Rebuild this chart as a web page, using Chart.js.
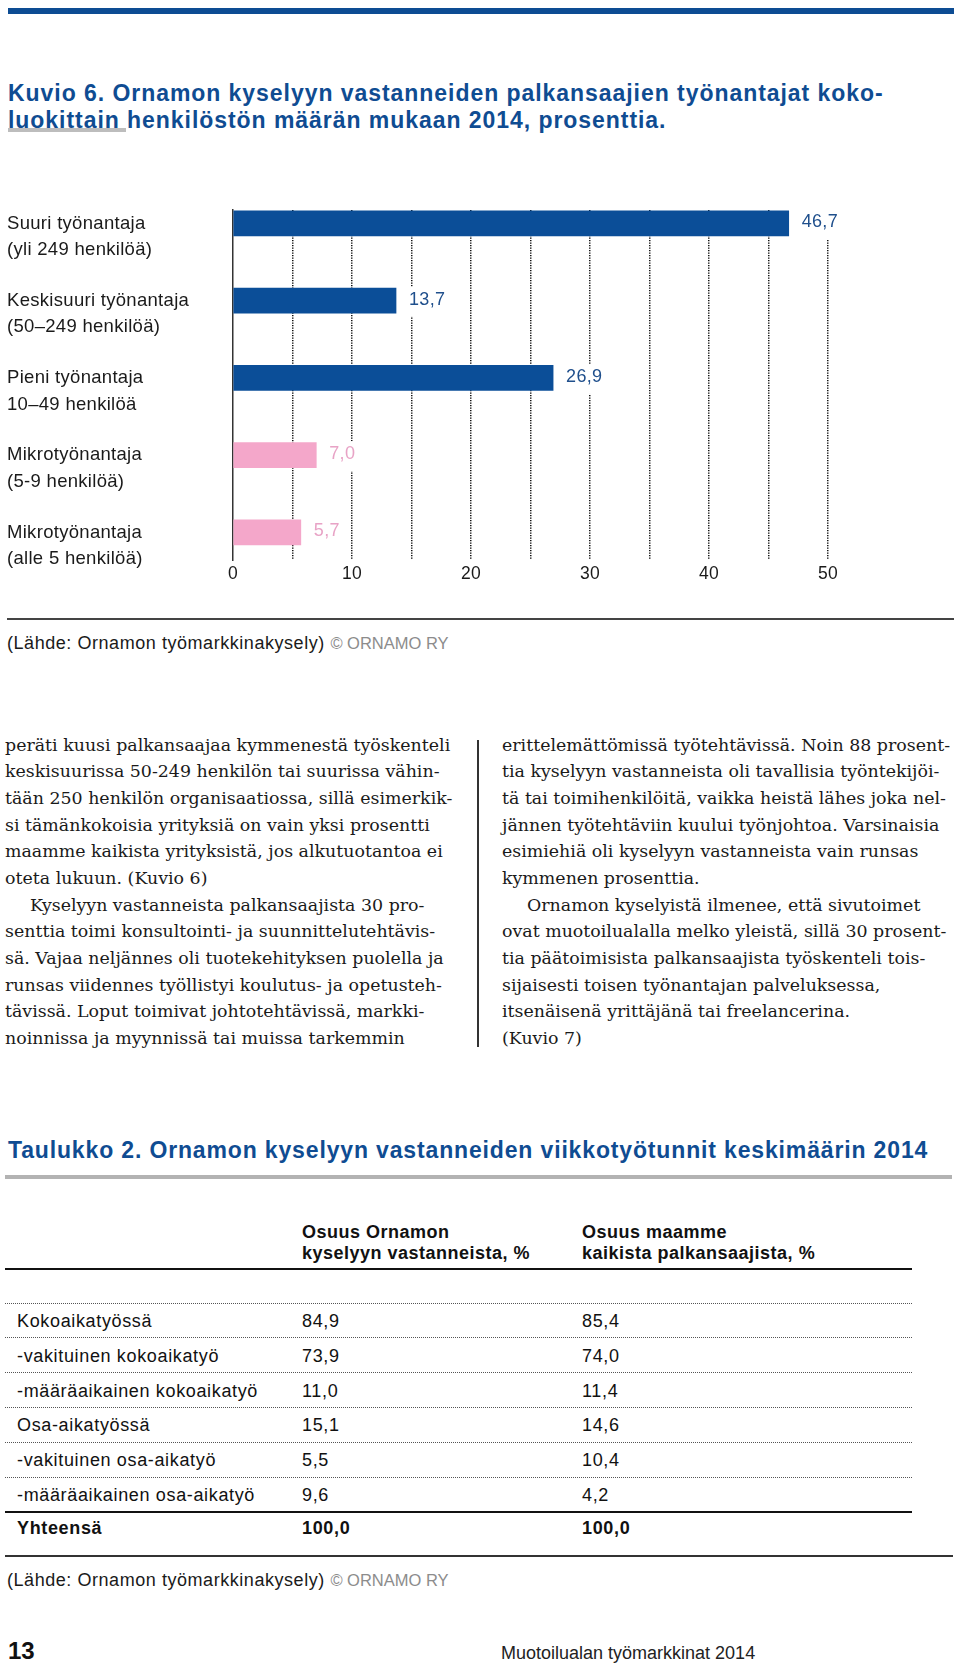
<!DOCTYPE html>
<html>
<head>
<meta charset="utf-8">
<script src="https://cdn.jsdelivr.net/npm/chart.js@4.4.1/dist/chart.umd.min.js"></script>
<style>
  html, body { margin:0; padding:0; background:#fff; }
  body { width:960px; height:1666px; position:relative; overflow:hidden; font-family:"Liberation Sans", Arial, sans-serif; color:#1a1a1a; }
  .abs { position:absolute; white-space:nowrap; }
  .title { font-weight:bold; font-size:23px; letter-spacing:0.95px; color:#0f4c92; line-height:26.5px; }
  .sans17 { font-size:18px; letter-spacing:0.55px; line-height:22px; }
  .serif { font-family:"DejaVu Serif", serif; font-size:17.4px; line-height:26.67px; color:#1a1a1a; }
  .hdr { font-weight:bold; font-size:18px; letter-spacing:0.5px; line-height:21px; color:#111; }
  .row { font-size:18px; letter-spacing:0.65px; line-height:22px; color:#111; }
  .dot { position:absolute; left:5px; width:907px; height:0; border-top:1.5px dotted #555; }
  .grey { color:#8c8c8c; font-size:16.5px; letter-spacing:0; }
</style>
</head>
<body>
<div class="abs" style="left:8px;top:8px;width:946px;height:6px;background:#0d4c93;"></div>
<div class="abs title" style="left:8px;top:80px;">Kuvio 6. Ornamon kyselyyn vastanneiden palkansaajien työnantajat koko-</div>
<div class="abs title" style="left:8px;top:106.5px;">luokittain henkilöstön määrän mukaan 2014, prosenttia.</div>
<div class="abs" style="left:8px;top:128px;width:118px;height:4px;background:#bdbdbd;"></div>

<canvas id="c" width="960" height="409" style="position:absolute;left:0;top:180px;width:960px;height:409px;"></canvas>

<div class="abs" style="left:7px;top:618px;width:947px;height:2px;background:#444;"></div>
<div class="abs sans17" style="left:7px;top:632px;">(Lähde: Ornamon työmarkkinakysely) <span class="grey">© ORNAMO RY</span></div>

<div id="colL"></div>
<div id="colR"></div>
<div class="abs" style="left:477px;top:740px;width:1.5px;height:307px;background:#333;"></div>

<div class="abs title" style="left:8px;top:1137px;letter-spacing:0.85px;">Taulukko 2. Ornamon kyselyyn vastanneiden viikkotyötunnit keskimäärin 2014</div>
<div class="abs" style="left:5px;top:1175px;width:947px;height:4px;background:#b3b3b3;"></div>

<div class="abs hdr" style="left:302px;top:1222px;">Osuus Ornamon<br>kyselyyn vastanneista, %</div>
<div class="abs hdr" style="left:582px;top:1222px;">Osuus maamme<br>kaikista palkansaajista, %</div>
<div class="abs" style="left:5px;top:1268px;width:907px;height:1.5px;background:#111;"></div>
<div id="table"></div>
<div class="abs" style="left:5px;top:1511px;width:907px;height:1.5px;background:#111;"></div>
<div class="abs" style="left:5px;top:1555px;width:948px;height:2px;background:#333;"></div>
<div class="abs sans17" style="left:7px;top:1569px;">(Lähde: Ornamon työmarkkinakysely) <span class="grey">© ORNAMO RY</span></div>

<div class="abs" style="left:8px;top:1636px;font-weight:bold;font-size:24px;line-height:30px;color:#111;">13</div>
<div class="abs" style="left:501px;top:1642px;font-size:18px;line-height:22px;color:#222;">Muotoilualan työmarkkinat 2014</div>

<script>
// ---- chart data ----
const categories = [
  ["Suuri työnantaja", "(yli 249 henkilöä)"],
  ["Keskisuuri työnantaja", "(50–249 henkilöä)"],
  ["Pieni työnantaja", "10–49 henkilöä"],
  ["Mikrotyönantaja", "(5-9 henkilöä)"],
  ["Mikrotyönantaja", "(alle 5 henkilöä)"]
];
const values = [46.7, 13.7, 26.9, 7.0, 5.7];
const valueLabels = ["46,7", "13,7", "26,9", "7,0", "5,7"];
const xTickValues = [0, 10, 20, 30, 40, 50];

// ---- table data ----
const tableRows = ["Kokoaikatyössä", "-vakituinen kokoaikatyö", "-määräaikainen kokoaikatyö", "Osa-aikatyössä", "-vakituinen osa-aikatyö", "-määräaikainen osa-aikatyö", "Yhteensä"];
const tableOrnamo = ["84,9", "73,9", "11,0", "15,1", "5,5", "9,6", "100,0"];
const tableAll = ["85,4", "74,0", "11,4", "14,6", "10,4", "4,2", "100,0"];

// ---- body text ----
const leftLines = [
  "peräti kuusi palkansaajaa kymmenestä työskenteli",
  "keskisuurissa 50-249 henkilön tai suurissa vähin-",
  "tään 250 henkilön organisaatiossa, sillä esimerkik-",
  "si tämänkokoisia yrityksiä on vain yksi prosentti",
  "maamme kaikista yrityksistä, jos alkutuotantoa ei",
  "oteta lukuun. (Kuvio 6)",
  "\u2003Kyselyyn vastanneista palkansaajista 30 pro-",
  "senttia toimi konsultointi- ja suunnittelutehtävis-",
  "sä. Vajaa neljännes oli tuotekehityksen puolella ja",
  "runsas viidennes työllistyi koulutus- ja opetusteh-",
  "tävissä. Loput toimivat johtotehtävissä, markki-",
  "noinnissa ja myynnissä tai muissa tarkemmin"
];
const rightLines = [
  "erittelemättömissä työtehtävissä. Noin 88 prosent-",
  "tia kyselyyn vastanneista oli tavallisia työntekijöi-",
  "tä tai toimihenkilöitä, vaikka heistä lähes joka nel-",
  "jännen työtehtäviin kuului työnjohtoa. Varsinaisia",
  "esimiehiä oli kyselyyn vastanneista vain runsas",
  "kymmenen prosenttia.",
  "\u2003Ornamon kyselyistä ilmenee, että sivutoimet",
  "ovat muotoilualalla melko yleistä, sillä 30 prosent-",
  "tia päätoimisista palkansaajista työskenteli tois-",
  "sijaisesti toisen työnantajan palveluksessa,",
  "itsenäisenä yrittäjänä tai freelancerina.",
  "(Kuvio 7)"
];

function placeLines(lines, left, id) {
  const host = document.getElementById(id);
  lines.forEach((t, i) => {
    const d = document.createElement('div');
    d.className = 'abs serif';
    d.style.left = left + 'px';
    d.style.top = (731.7 + i * 26.67) + 'px';
    if (t.startsWith('\u2003')) { d.style.left = (left + 25) + 'px'; t = t.slice(1); }
    d.textContent = t;
    host.appendChild(d);
  });
}
placeLines(leftLines, 5, 'colL');
placeLines(rightLines, 502, 'colR');

(function buildTable() {
  const host = document.getElementById('table');
  const rowStep = 34.8;
  tableRows.forEach((r, i) => {
    const cy = 1321 + i * rowStep - (i === 6 ? 1.5 : 0);
    const bold = i === 6 ? 'font-weight:bold;' : '';
    [[r, 17], [tableOrnamo[i], 302], [tableAll[i], 582]].forEach(([t, x]) => {
      const d = document.createElement('div');
      d.className = 'abs row';
      d.style.cssText += 'left:' + x + 'px;top:' + (cy - 11) + 'px;' + bold;
      d.textContent = t;
      host.appendChild(d);
    });
    if (i < 6) {
      const l = document.createElement('div');
      l.className = 'dot';
      l.style.top = (1303 + i * rowStep - 0.5) + 'px';
      host.appendChild(l);
    }
  });
})();

// ---- chart ----
const blue = '#0b4e98', pink = '#f4a7ca';
const barColors = [blue, blue, blue, pink, pink];
const labelColors = ['#1f4f8c', '#1f4f8c', '#1f4f8c', '#e8a3c6', '#e8a3c6'];
const FONT = '"Liberation Sans", Arial, sans-serif';

const spacingPlugin = {
  id: 'spacing',
  beforeDraw(chart) { chart.ctx.letterSpacing = '0.3px'; }
};

const valueLabelPlugin = {
  id: 'valueLabels',
  afterDatasetsDraw(chart) {
    const ctx = chart.ctx;
    const meta = chart.getDatasetMeta(0);
    ctx.save();
    ctx.font = '18px ' + FONT;
    ctx.textBaseline = 'middle';
    ctx.textAlign = 'left';
    meta.data.forEach((el, i) => {
      const x = el.x + 13, y = el.y - 1;
      const w = ctx.measureText(valueLabels[i]).width;
      ctx.fillStyle = '#fff';
      ctx.fillRect(x - 4, el.y - 14, w + 8, 30);
      ctx.fillStyle = labelColors[i];
      ctx.fillText(valueLabels[i], x, y);
    });
    ctx.restore();
  }
};

new Chart(document.getElementById('c'), {
  type: 'bar',
  data: {
    datasets: [{
      data: values.map((v, i) => ({ x: v, y: i })),
      backgroundColor: barColors,
      borderWidth: 0,
      barThickness: 25
    }]
  },
  options: {
    indexAxis: 'y',
    responsive: false,
    animation: false,
    devicePixelRatio: 1,
    layout: { padding: { left: 7, right: 132, top: 30, bottom: 0 } },
    plugins: { legend: { display: false }, tooltip: { enabled: false } },
    scales: {
      x: {
        type: 'linear', min: 0, max: 50, offset: false,
        afterBuildTicks: s => { s.ticks = []; for (let v = 0; v <= 50; v += 5) s.ticks.push({ value: v }); },
        ticks: {
          callback: v => xTickValues.includes(v) ? String(v) : '',
          color: '#1a1a1a', font: { family: FONT, size: 17.5 }, padding: 4,
          autoSkip: false, maxRotation: 0
        },
        grid: {
          color: c => (c.tick && c.tick.value === 0) ? 'rgba(0,0,0,0)' : '#111',
          lineWidth: 1.5, drawTicks: false, offset: false
        },
        border: { display: false, dash: [1.2, 1.3] }
      },
      y: {
        type: 'linear', reverse: true, min: -0.174, max: 4.357, offset: false,
        afterBuildTicks: s => { s.ticks = categories.map((c, i) => ({ value: i })); },
        ticks: {
          callback: v => ['', ...categories[v]],
          crossAlign: 'far', autoSkip: false,
          color: '#1a1a1a', font: { family: FONT, size: 18.5, lineHeight: 1.44 }
        },
        grid: { display: false, offset: false },
        border: { display: true, color: '#333', width: 1.5 },
        afterFit: s => { s.width = 226; s.paddingTop = 0; s.paddingBottom = 0; }
      }
    }
  },
  plugins: [spacingPlugin, valueLabelPlugin]
});
</script>
</body>
</html>
